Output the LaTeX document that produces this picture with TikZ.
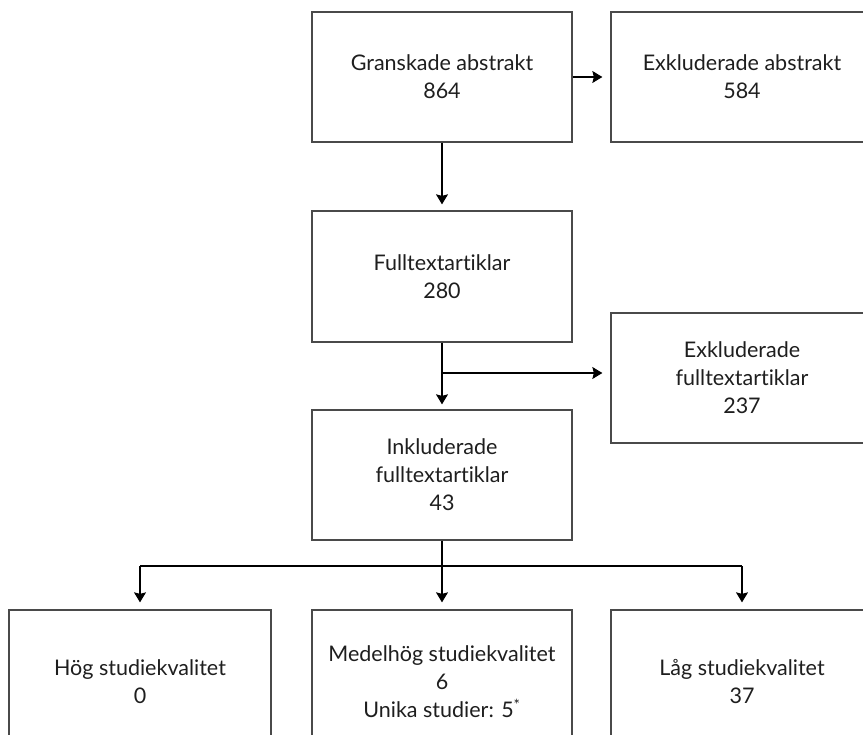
\documentclass[tikz,border=0pt]{standalone}
\usepackage{fontspec}
\setmainfont{Lato}[Ligatures=NoCommon]
\usetikzlibrary{arrows.meta}
\definecolor{boxline}{HTML}{4A4A4A}
\definecolor{txt}{HTML}{1E1E1E}
\tikzset{
  flowbox/.style={draw=boxline, line width=1.3pt, minimum width=260pt,
    minimum height=130pt, inner sep=0pt, align=center, text=txt,
    font=\fontsize{21.5}{28}\selectfont},
  flowarrow/.style={draw=black, line width=1.1pt,
    -{Stealth[length=10pt,width=12pt,inset=1.5pt]}, shorten >=7pt},
  flowline/.style={draw=black, line width=1.1pt}
}
\begin{document}
\begin{tikzpicture}[x=1pt,y=-1pt]
  \useasboundingbox (0,0) rectangle (863,735);
  \clip (0,0) rectangle (863,735);

  % main column
  \node[flowbox] (ga) at (442,77) {Granskade abstrakt\\864};
  \node[flowbox, minimum height=131pt] (ft) at (442,276.5) {Fulltextartiklar\\280};
  \node[flowbox] (ink) at (442,475) {Inkluderade\\fulltextartiklar\\43};

  % exclusions on the right
  \node[flowbox, minimum width=262pt] (ea) at (742,77) {Exkluderade abstrakt\\584};
  \node[flowbox, minimum width=262pt] (ef) at (742,378) {Exkluderade\\fulltextartiklar\\237};

  % quality levels
  \node[flowbox, minimum width=262pt, minimum height=144pt] (hog) at (140,682) {Hög studiekvalitet\\0};
  \node[flowbox, minimum height=144pt] (med) at (442,682) {Medelhög studiekvalitet\\6\\Unika studier: 5\textsuperscript{*}};
  \node[flowbox, minimum width=262pt, minimum height=144pt] (lag) at (742,682) {Låg studiekvalitet\\37};

  % connectors
  \draw[flowarrow, shorten >=8pt] (ga.east) -- (ea.west);
  \draw[flowarrow, shorten >=6pt] (ga.south) -- (ft.north);
  \draw[flowarrow, shorten >=5pt] (ft.south) -- (ink.north);
  \coordinate (fb) at (ft.south |- 0,373);
  \draw[flowarrow, shorten >=8pt] (fb) -- (fb -| ef.west);

  \coordinate (sp) at (ink.south |- 0,566);
  \draw[flowline] (ink.south) -- (sp);
  \draw[flowline] (sp -| hog.north) -- (sp -| lag.north);
  \draw[flowarrow] (sp -| hog.north) -- (hog.north);
  \draw[flowarrow] (sp) -- (med.north);
  \draw[flowarrow] (sp -| lag.north) -- (lag.north);
\end{tikzpicture}
\end{document}
